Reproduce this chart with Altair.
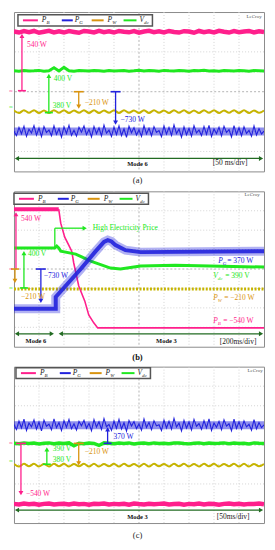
import altair as alt
import numpy as np
import pandas as pd

PINK = "#ff1f8c"
BLUE = "#2222dd"
OLIVE = "#c6b400"
ORANGE = "#d9940f"
GREEN = "#20e820"
DGREEN = "#226b22"
FONT = "Liberation Serif"

# ---------------- trace data (oscilloscope divisions: x 0..10, y 0..8) ----------------
# Panel (a) Mode 6, 50 ms/div
a_pb = [7.02, 6.97, 7.04, 6.99, 7.05, 6.96, 7.01, 7.06, 6.98, 7.03,
        6.97, 7.04, 7.0, 6.96, 7.05, 7.02, 6.98, 7.06, 6.99, 7.03,
        6.97, 7.05, 7.01, 6.98, 7.04, 6.96, 7.02, 7.06, 6.99, 7.03,
        6.98, 7.05, 7.0, 6.97, 7.04, 7.02, 6.96, 7.05, 6.99, 7.03,
        6.98, 7.06, 7.01, 6.97, 7.04, 6.99, 7.02, 7.05, 6.98, 7.03, 7.0]
a_vdc = [5.05, 5.03, 5.06, 5.04, 5.05, 5.07, 5.03, 5.05, 5.2, 5.04,
         5.22, 5.05, 5.03, 5.06, 5.05, 5.04, 5.07, 5.05, 5.03, 5.06,
         5.04, 5.05, 5.06, 5.03, 5.05, 5.08, 5.04, 5.06, 5.05, 5.03,
         5.07, 5.05, 5.04, 5.06, 5.05, 5.03, 5.06, 5.05, 5.08, 5.04,
         5.05, 5.03, 5.06, 5.05, 5.04, 5.07, 5.05, 5.03, 5.06, 5.05, 5.04]
a_pw = [3.06, 2.93, 3.07, 2.94, 3.07, 2.93, 3.06, 2.93, 3.07, 2.94,
        3.07, 2.93, 3.06, 2.94, 3.07, 2.93, 3.07, 2.93, 3.06, 2.94,
        3.07, 2.93, 3.07, 2.94, 3.06, 2.93, 3.07, 2.93, 3.07, 2.94,
        3.06, 2.93, 3.07, 2.94, 3.07, 2.93, 3.06, 2.93, 3.07, 2.94,
        3.07, 2.93, 3.06, 2.94, 3.07, 2.93, 3.07, 2.93, 3.06, 2.94, 3.06]
a_pg = [2.02, 1.80, 2.21, 1.88, 2.27, 1.76, 2.12, 1.93, 2.30, 1.82,
        2.18, 1.74, 2.25, 1.95, 2.08, 1.79, 2.29, 1.86, 2.15, 1.72,
        2.24, 1.90, 2.31, 1.81, 2.06, 1.77, 2.22, 1.97, 2.28, 1.84,
        2.11, 1.73, 2.26, 1.89, 2.19, 1.78, 2.32, 1.92, 2.07, 1.75,
        2.23, 1.85, 2.29, 1.80, 2.14, 1.71, 2.27, 1.94, 2.20, 1.83,
        2.09, 1.76, 2.30, 1.88, 2.17, 1.79, 2.25, 1.96, 2.05, 1.74,
        2.28, 1.87, 2.21, 1.81, 2.33, 1.90, 2.12, 1.72, 2.24, 1.84,
        2.16, 1.77, 2.29, 1.93, 2.08, 1.80, 2.26, 1.86, 2.31, 1.75,
        2.13, 1.89, 2.22, 1.78, 2.27, 1.95, 2.10, 1.73, 2.30, 1.85,
        2.19, 1.79, 2.24, 1.91, 2.06, 1.76, 2.28, 1.83, 2.15, 1.88, 2.02]

# Panel (b) Mode 6 -> Mode 3, 200 ms/div
b_pb_t = [0, 1.79, 1.87, 2.03, 2.19, 2.31, 2.39, 2.59, 2.83, 2.99, 3.19, 3.35, 10]
b_pb_v = [7.08, 7.08, 6.36, 5.64, 5.23, 4.92, 4.31, 3.13, 2.36, 1.64, 1.23, 0.97, 0.97]
b_vdc_t = [0, 1.63, 1.71, 1.79, 1.87, 2.47, 3.07, 3.86, 4.26, 5.06, 6.45, 10]
b_vdc_v = [5.08, 5.08, 5.18, 5.08, 4.92, 4.77, 4.41, 4.05, 4.0, 4.15, 4.2, 4.1]
b_pg_t = [0, 1.67, 1.67, 2.67, 3.27, 3.6, 3.75, 3.9, 4.06, 4.46, 5.06, 10]
b_pg_v = [1.95, 1.95, 2.56, 4.0, 4.92, 5.4, 5.49, 5.42, 5.23, 4.97, 4.87, 4.92]
b_pw_t = [0, 10]
b_pw_v = [2.97, 2.97]

# Panel (c) Mode 3, 50 ms/div
c_pg = [5.04, 4.78, 5.22, 4.86, 5.31, 4.74, 5.12, 4.92, 5.28, 4.80,
        5.16, 4.71, 5.27, 4.95, 5.06, 4.77, 5.33, 4.88, 5.14, 4.73,
        5.24, 4.90, 5.30, 4.82, 5.08, 4.76, 5.20, 4.98, 5.26, 4.85,
        5.10, 4.72, 5.29, 4.91, 5.18, 4.79, 5.34, 4.93, 5.05, 4.74,
        5.22, 4.84, 5.30, 4.81, 5.13, 4.70, 5.25, 4.96, 5.19, 4.83,
        5.07, 4.75, 5.32, 4.89, 5.15, 4.78, 5.23, 4.97, 5.03, 4.73,
        5.27, 4.86, 5.21, 4.80, 5.35, 4.91, 5.11, 4.71, 5.25, 4.85,
        5.17, 4.76, 5.30, 4.94, 5.09, 4.79, 5.24, 4.87, 5.33, 4.74,
        5.12, 4.90, 5.20, 4.77, 5.28, 4.96, 5.08, 4.72, 5.31, 4.84,
        5.18, 4.80, 5.23, 4.92, 5.05, 4.75, 5.29, 4.82, 5.14, 4.88, 5.02]
c_vdc = [4.08, 4.06, 4.10, 4.07, 4.09, 4.05, 4.08, 4.10, 4.06, 4.09,
         4.07, 4.10, 3.95, 4.08, 4.06, 4.09, 4.07, 3.97, 4.10, 4.08,
         4.06, 4.09, 4.07, 4.10, 4.05, 4.08, 4.09, 4.06, 4.10, 4.07,
         4.08, 4.06, 4.09, 4.10, 4.07, 4.05, 4.08, 4.10, 4.06, 4.09,
         4.07, 4.08, 4.10, 4.06, 4.09, 4.07, 4.08, 4.05, 4.10, 4.08, 4.07]
c_pw = [3.02, 2.89, 3.03, 2.90, 3.03, 2.89, 3.02, 2.89, 3.03, 2.90,
        3.03, 2.89, 3.02, 2.90, 3.03, 2.89, 3.03, 2.89, 3.02, 2.90,
        3.03, 2.89, 3.03, 2.90, 3.02, 2.89, 3.03, 2.89, 3.03, 2.90,
        3.02, 2.89, 3.03, 2.90, 3.03, 2.89, 3.02, 2.89, 3.03, 2.90,
        3.03, 2.89, 3.02, 2.90, 3.03, 2.89, 3.03, 2.89, 3.02, 2.90, 3.02]
c_pb = [0.98, 0.95, 1.00, 0.96, 0.99, 0.94, 0.98, 1.00, 0.95, 0.97,
        0.99, 0.95, 1.00, 0.96, 0.98, 0.94, 0.99, 0.97, 1.00, 0.95,
        0.98, 0.96, 0.99, 0.94, 1.00, 0.97, 0.95, 0.99, 0.96, 0.98,
        1.00, 0.95, 0.97, 0.99, 0.94, 0.98, 0.96, 1.00, 0.95, 0.99,
        0.97, 0.94, 0.98, 1.00, 0.96, 0.99, 0.95, 0.98, 0.97, 1.00, 0.96]

legend_names = [("P", "B", PINK), ("P", "G", BLUE), ("P", "W", ORANGE), ("V", "dc", GREEN)]

XS = alt.Scale(domain=[0, 10], nice=False, zero=False)
YS = alt.Scale(domain=[0, 8], nice=False, zero=False)


def even(v):
    return list(np.linspace(0, 10, len(v)))


def panel(h, bottom, traces, segs, heads, texts, legend):
    ppd = h / 8.0

    def X(px):
        return (px - 13) / 25.1

    def Y(py):
        return (bottom - py) / ppd

    L = []
    L.append(alt.Chart(pd.DataFrame({"x": [1, 2, 3, 4, 6, 7, 8, 9]})).mark_rule(
        color="#d4d4d4", strokeDash=[1, 2], strokeWidth=1).encode(x=alt.X("x:Q", scale=XS, axis=None)))
    L.append(alt.Chart(pd.DataFrame({"y": [1, 2, 3, 5, 6, 7]})).mark_rule(
        color="#d4d4d4", strokeDash=[1, 2], strokeWidth=1).encode(y=alt.Y("y:Q", scale=YS, axis=None)))
    L.append(alt.Chart(pd.DataFrame({"x": [5]})).mark_rule(
        color="#b4b4b4", strokeDash=[2, 2], strokeWidth=1).encode(x=alt.X("x:Q", scale=XS, axis=None)))
    L.append(alt.Chart(pd.DataFrame({"y": [4]})).mark_rule(
        color="#b4b4b4", strokeDash=[2, 2], strokeWidth=1).encode(y=alt.Y("y:Q", scale=YS, axis=None)))

    for tr in traces:
        df = pd.DataFrame({"t": tr["t"], "v": tr["v"]})
        df["i"] = range(len(df))
        props = dict(color=tr["color"], strokeWidth=tr["w"], opacity=tr.get("op", 1.0),
                     interpolate=tr.get("interp", "linear"), clip=True)
        if "dash" in tr:
            props["strokeDash"] = tr["dash"]
        L.append(alt.Chart(df).mark_line(**props).encode(
            x=alt.X("t:Q", scale=XS, axis=None), y=alt.Y("v:Q", scale=YS, axis=None),
            order="i:Q"))

    # legend box
    lx, ltop, lbot = legend
    cy = (ltop + lbot) / 2
    L.append(alt.Chart(pd.DataFrame({"x": [X(lx)], "x2": [X(lx + 135)], "y": [Y(ltop)], "y2": [Y(lbot)]}))
             .mark_rect(fill="white", stroke="#555555", strokeWidth=1.5)
             .encode(x=alt.X("x:Q", scale=XS, axis=None), x2="x2:Q",
                     y=alt.Y("y:Q", scale=YS, axis=None), y2="y2:Q"))
    offs = [(5, 20, 24), (44, 55, 57), (74, 86, 90), (106, 119, 122)]
    segs = list(segs)
    texts = list(texts)
    for (o1, o2, o3), (let, sub, col) in zip(offs, legend_names):
        segs.append((lx + o1, cy, lx + o2, cy, col, 2.0))
        texts.append((lx + o3, cy, let, "#222222", 7.5, "italic", "normal", "left"))
        texts.append((lx + o3 + 4.6, cy + 2, sub, "#222222", 5, "italic", "normal", "left"))

    sdf = pd.DataFrame([{"x": X(a), "y": Y(b), "x2": X(c), "y2": Y(d), "c": col, "w": w}
                        for a, b, c, d, col, w in segs])
    L.append(alt.Chart(sdf).mark_rule().encode(
        x=alt.X("x:Q", scale=XS, axis=None), x2="x2:Q",
        y=alt.Y("y:Q", scale=YS, axis=None), y2="y2:Q",
        color=alt.Color("c:N", scale=None), strokeWidth=alt.StrokeWidth("w:Q", scale=None)))

    hdf = pd.DataFrame([{"x": X(a), "y": Y(b), "s": s, "c": col} for a, b, s, col in heads])
    L.append(alt.Chart(hdf).mark_point(filled=True, opacity=1, size=24, strokeWidth=0).encode(
        x=alt.X("x:Q", scale=XS, axis=None), y=alt.Y("y:Q", scale=YS, axis=None),
        shape=alt.Shape("s:N", scale=None), color=alt.Color("c:N", scale=None)))

    tdf = pd.DataFrame([{"x": X(a), "y": Y(b), "t": t, "c": col, "sz": sz, "st": st, "wt": wt, "al": al}
                        for a, b, t, col, sz, st, wt, al in texts])
    for (st, wt, al), g in tdf.groupby(["st", "wt", "al"]):
        L.append(alt.Chart(g).mark_text(font=FONT, fontStyle=st, fontWeight=wt, align=al,
                                        baseline="middle").encode(
            x=alt.X("x:Q", scale=XS, axis=None), y=alt.Y("y:Q", scale=YS, axis=None),
            text="t:N", color=alt.Color("c:N", scale=None), size=alt.Size("sz:Q", scale=None)))

    return alt.layer(*L).properties(width=251, height=h)


N = "normal"
# ---------------- panel (a) ----------------
pa = panel(
    160, 170,
    traces=[
        dict(t=even(a_pb), v=a_pb, color=PINK, w=4.5),
        dict(t=even(a_vdc), v=a_vdc, color=GREEN, w=3),
        dict(t=even(a_pw), v=a_pw, color=OLIVE, w=2, interp="monotone"),
        dict(t=[0, 10], v=[2.0, 2.0], color=BLUE, w=8, op=0.5),
        dict(t=even(a_pg), v=a_pg, color=BLUE, w=1.1),
    ],
    segs=[
        (21, 89, 21, 34, PINK, 1.3), (17, 89, 25, 89, PINK, 1.6),
        (48, 111, 48, 75, GREEN, 1.3), (44, 111, 52, 111, GREEN, 1.6),
        (78, 90, 78, 104, ORANGE, 1.3), (73, 90, 83, 90, ORANGE, 1.6),
        (115, 90, 115, 120, BLUE, 1.3), (110, 90, 120, 90, BLUE, 1.6),
        (16, 157, 261, 157, DGREEN, 1.3),
    ],
    heads=[(21, 34, "triangle-up", PINK), (48, 74, "triangle-up", GREEN),
           (78, 105, "triangle-down", ORANGE), (115, 121, "triangle-down", BLUE),
           (16, 157, "triangle-left", DGREEN), (261, 157, "triangle-right", DGREEN)],
    texts=[
        (26, 43, "540 W", PINK, 7.5, N, N, "left"),
        (53, 77, "400 V", GREEN, 7.5, N, N, "left"),
        (52, 104, "380 V", GREEN, 7.5, N, N, "left"),
        (84, 101, "\u2212210 W", ORANGE, 7.5, N, N, "left"),
        (120, 118, "\u2212730 W", BLUE, 7.5, N, N, "left"),
        (137, 163, "Mode 6", "#111111", 6.5, N, "bold", "center"),
        (230, 162, "[50 ms/div]", "#222222", 7.5, N, N, "center"),
        (254, 14, "LeCroy", "#555555", 5, N, N, "center"),
        (137, 179, "(a)", "#222222", 8.5, N, N, "center"),
        (10, 89, "\u2248", PINK, 6, N, N, "center"),
        (10, 105, "\u2248", GREEN, 6, N, N, "center"),
    ],
    legend=(17, 12.7, 24),
)

# ---------------- panel (b) ----------------
pb = panel(
    156, 346,
    traces=[
        dict(t=b_pw_t, v=b_pw_v, color=OLIVE, w=3, dash=[2, 1.5]),
        dict(t=b_pb_t[:2], v=b_pb_v[:2], color=PINK, w=4),
        dict(t=b_pb_t[1:], v=b_pb_v[1:], color=PINK, w=1.6),
        dict(t=b_vdc_t, v=b_vdc_v, color=GREEN, w=3),
        dict(t=b_pg_t, v=b_pg_v, color=BLUE, w=9, op=0.35),
        dict(t=b_pg_t, v=b_pg_v, color=BLUE, w=4, op=0.9),
    ],
    segs=[
        (15, 268, 15, 214, PINK, 1.3),
        (23, 287, 23, 253, GREEN, 1.3), (19, 287, 27, 287, GREEN, 1.6),
        (14, 268, 14, 279, ORANGE, 1.3), (10, 268, 18, 268, ORANGE, 1.6),
        (40, 268, 40, 299, BLUE, 1.3), (35, 268, 45, 268, BLUE, 1.6),
        (54, 247, 54, 227, GREEN, 1.3), (54, 227, 83, 227, GREEN, 1.3),
        (16, 333, 51, 333, DGREEN, 1.3), (60, 333, 261, 333, DGREEN, 1.3),
    ],
    heads=[(15, 213, "triangle-up", PINK), (23, 252, "triangle-up", GREEN),
           (14, 280, "triangle-down", ORANGE), (40, 300, "triangle-down", BLUE),
           (84, 227, "triangle-right", GREEN),
           (16, 333, "triangle-left", DGREEN), (51, 333, "triangle-right", DGREEN),
           (60, 333, "triangle-left", DGREEN), (261, 333, "triangle-right", DGREEN)],
    texts=[
        (20, 218, "540 W", PINK, 7.5, N, N, "left"),
        (27, 253, "400 V", GREEN, 7.5, N, N, "left"),
        (20, 296, "\u2212210 W", ORANGE, 7.5, N, N, "left"),
        (43, 275, "\u2212730 W", BLUE, 7.5, N, N, "left"),
        (92, 227, "High Electricity Price", GREEN, 7.5, N, N, "left"),
        (218, 260, "P", BLUE, 7.5, "italic", N, "left"),
        (222.6, 262, "G", BLUE, 5, "italic", N, "left"),
        (227, 260, "= 370 W", BLUE, 7.5, N, N, "left"),
        (213, 275, "V", GREEN, 7.5, "italic", N, "left"),
        (217.6, 277, "dc", GREEN, 5, "italic", N, "left"),
        (225, 275, "= 390 V", GREEN, 7.5, N, N, "left"),
        (213, 297, "P", ORANGE, 7.5, "italic", N, "left"),
        (217.6, 299, "W", ORANGE, 5, "italic", N, "left"),
        (224, 297, "= \u2212210 W", ORANGE, 7.5, N, N, "left"),
        (213, 320, "P", PINK, 7.5, "italic", N, "left"),
        (217.6, 322, "B", PINK, 5, "italic", N, "left"),
        (223, 320, "= \u2212540 W", PINK, 7.5, N, N, "left"),
        (35, 340, "Mode 6", "#111111", 6.5, N, "bold", "center"),
        (166, 340, "Mode 3", "#111111", 6.5, N, "bold", "center"),
        (238, 341, "[200ms/div]", "#222222", 7.5, N, N, "center"),
        (252, 193, "LeCroy", "#555555", 5, N, N, "center"),
        (137, 356, "(b)", "#111111", 8.5, N, "bold", "center"),
        (10, 268, "\u2248", PINK, 6, N, N, "center"),
        (10, 287, "\u2248", GREEN, 6, N, N, "center"),
    ],
    legend=(13, 192, 203),
)

# ---------------- panel (c) ----------------
pc = panel(
    157, 523,
    traces=[
        dict(t=[0, 10], v=[5.0, 5.0], color=BLUE, w=8, op=0.5),
        dict(t=even(c_pg), v=c_pg, color=BLUE, w=1.1),
        dict(t=even(c_pw), v=c_pw, color=OLIVE, w=2, interp="monotone"),
        dict(t=even(c_vdc), v=c_vdc, color=GREEN, w=3.5),
        dict(t=even(c_pb), v=c_pb, color=PINK, w=4.5),
    ],
    segs=[
        (107, 443, 107, 430, BLUE, 1.3), (103, 443, 111, 443, BLUE, 1.6),
        (20, 443, 20, 492, PINK, 1.3), (15, 443, 25, 443, PINK, 1.6),
        (46, 464, 46, 450, GREEN, 1.3), (42, 464, 50, 464, GREEN, 1.6),
        (78, 443, 78, 462, ORANGE, 1.3), (73, 443, 83, 443, ORANGE, 1.6),
        (16, 510, 261, 510, DGREEN, 1.3),
    ],
    heads=[(107, 429, "triangle-up", BLUE), (20, 493, "triangle-down", PINK),
           (46, 449, "triangle-up", GREEN), (78, 463, "triangle-down", ORANGE),
           (16, 510, "triangle-left", DGREEN), (261, 510, "triangle-right", DGREEN)],
    texts=[
        (113, 437, "370 W", BLUE, 7.5, N, N, "left"),
        (25, 494, "\u2212540 W", PINK, 7.5, N, N, "left"),
        (52, 449, "390 V", GREEN, 7.5, N, N, "left"),
        (52, 460, "380 V", GREEN, 7.5, N, N, "left"),
        (84, 452, "\u2212210 W", ORANGE, 7.5, N, N, "left"),
        (137, 517, "Mode 3", "#111111", 6.5, N, "bold", "center"),
        (233, 517, "[50ms/div]", "#222222", 7.5, N, N, "center"),
        (255, 369, "LeCroy", "#555555", 5, N, N, "center"),
        (137, 535, "(c)", "#222222", 8.5, N, N, "center"),
        (10, 443, "\u2248", PINK, 6, N, N, "center"),
        (10, 461, "\u2248", GREEN, 6, N, N, "center"),
    ],
    legend=(15, 367, 378),
)

chart = alt.vconcat(pa, pb, pc, spacing=20, bounds="flush").configure_view(
    stroke="#8c8c8c", strokeWidth=1
).properties(padding={"left": 0, "top": 2, "right": 2, "bottom": 4}, background="white")

chart.save("out.html", embed_options={"renderer": "svg", "actions": False})
